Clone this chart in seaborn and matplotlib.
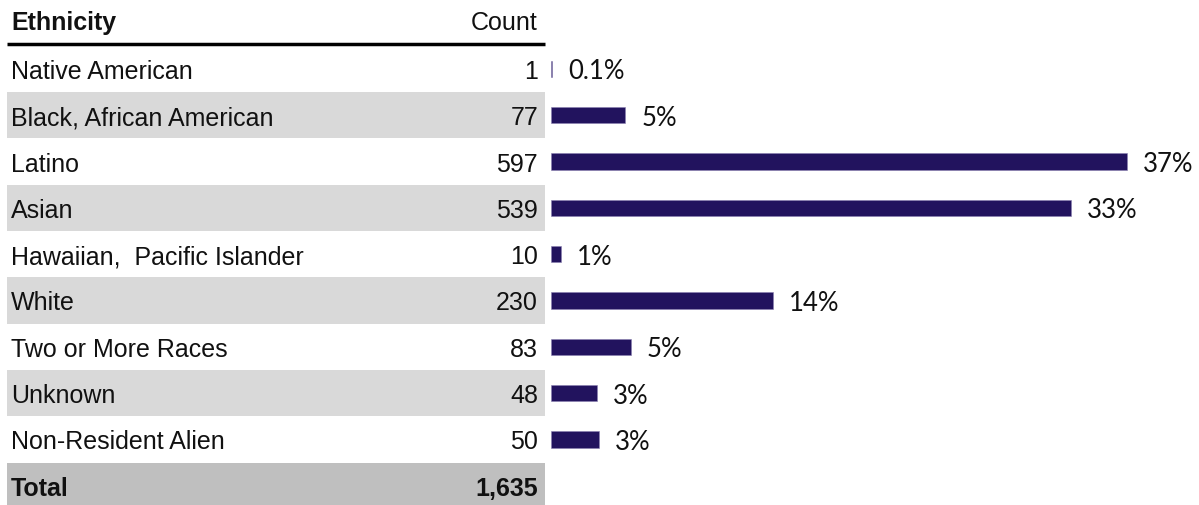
import matplotlib
matplotlib.use("Agg")
import matplotlib.pyplot as plt
import seaborn as sns
import pandas as pd

# data
ethnicity = ["Native American", "Black, African American", "Latino", "Asian",
             "Hawaiian,  Pacific Islander", "White", "Two or More Races",
             "Unknown", "Non-Resident Alien"]
counts = [1, 77, 597, 539, 10, 230, 83, 48, 50]
pct_labels = ["0.1%", "5%", "37%", "33%", "1%", "14%", "5%", "3%", "3%"]
total_label = "Total"
total_count = "1,635"

sns.set_theme(style="white")
table_font = ["Liberation Sans", "DejaVu Sans"]
pct_font = ["Lato", "DejaVu Sans"]
fs = 18

W, H = 1199, 506
row_h = 46.3
top_px = 70 - row_h / 2          # top of first row
n_rows = len(ethnicity) + 1
bottom_px = top_px + n_rows * row_h
dy = 2 / row_h                   # small nudge down for text

fig = plt.figure(figsize=(W / 100, H / 100), dpi=100)
ax_b = (H - bottom_px) / H
ax_h = (bottom_px - top_px) / H

# table axes over whole width (x in pixels)
tab = fig.add_axes([0, ax_b, 1, ax_h])
tab.set_xlim(0, W)
tab.set_ylim(n_rows - 0.5, -0.5)
tab.axis("off")

for i in range(n_rows):
    if i == n_rows - 1:
        tab.axhspan(i - 0.5, i + 0.5, xmin=7 / W, xmax=545 / W, color="#bfbfbf", lw=0)
    elif i % 2 == 1:
        tab.axhspan(i - 0.5, i + 0.5, xmin=7 / W, xmax=545 / W, color="#d9d9d9", lw=0)

for i, (name, c) in enumerate(zip(ethnicity, counts)):
    tab.text(11, i + dy, name, ha="left", va="center", fontsize=fs, family=table_font, color="#111111")
    tab.text(538, i + dy, f"{c:,}", ha="right", va="center", fontsize=fs, family=table_font, color="#111111")
tab.text(11, n_rows - 1 + dy, total_label, ha="left", va="center", fontsize=fs,
         family=table_font, fontweight="bold", color="#111111")
tab.text(538, n_rows - 1 + dy, total_count, ha="right", va="center", fontsize=fs,
         family=table_font, fontweight="bold", color="#111111")

hdr_y = (23 - 70) / row_h
tab.text(11, hdr_y, "Ethnicity", ha="left", va="center", fontsize=fs,
         family=table_font, fontweight="bold", color="#111111", clip_on=False)
tab.text(538, hdr_y, "Count", ha="right", va="center", fontsize=fs,
         family=table_font, color="#111111", clip_on=False)
line_y = (45 - 70) / row_h
tab.plot([7, 545], [line_y, line_y], color="black", lw=2.5, clip_on=False,
         solid_capstyle="butt")

# bar axes
x0 = 551
px_per_count = 576 / 597
bar = fig.add_axes([x0 / W, ax_b, (W - x0) / W, ax_h])
bar.patch.set_alpha(0)
df = pd.DataFrame({"ethnicity": ethnicity, "count": counts})
sns.barplot(data=df, x="count", y="ethnicity", orient="h", color="#22135e",
            width=0.35, saturation=1, edgecolor="#8a80b0", linewidth=0.4, ax=bar)
bar.set_xlim(0, (W - x0) / px_per_count)
bar.set_ylim(n_rows - 0.5, -0.5)
bar.axis("off")
for i, (c, lab) in enumerate(zip(counts, pct_labels)):
    bar.text(c + 16 / px_per_count, i + dy, lab, ha="left", va="center",
             fontsize=18.5, family=pct_font, color="#111111")

fig.savefig("out.png", dpi=100)
